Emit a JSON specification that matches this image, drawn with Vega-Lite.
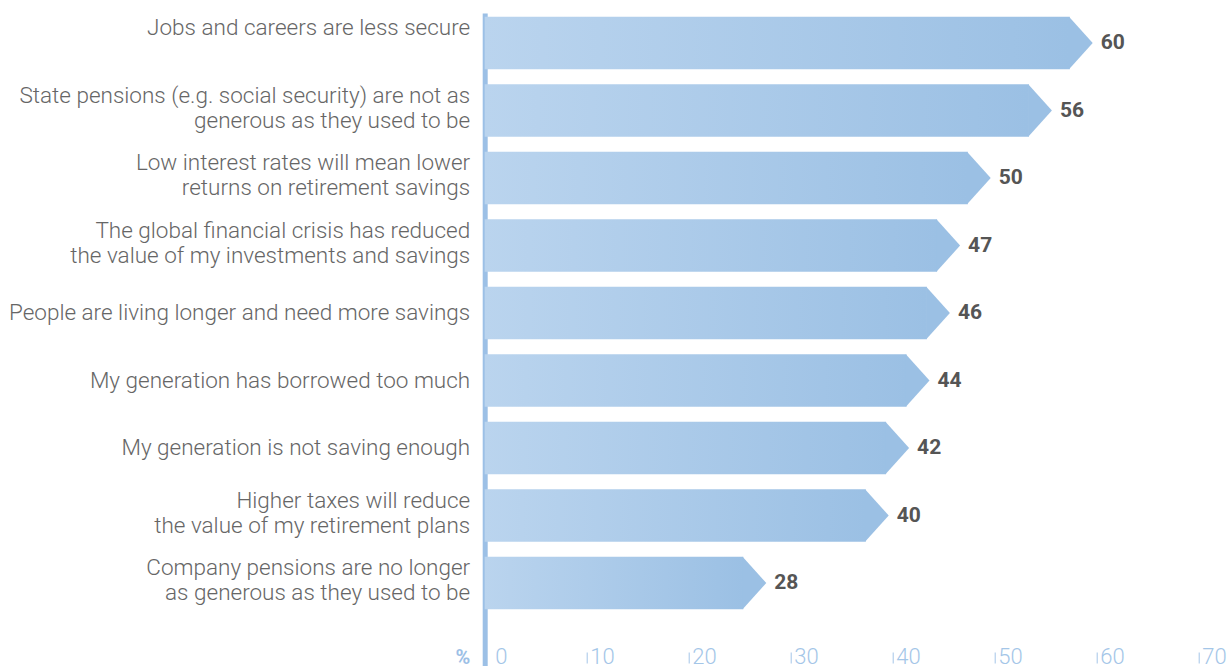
{
  "$schema": "https://vega.github.io/schema/vega-lite/v6.json",
  "autosize": "none",
  "width": 714,
  "height": 653,
  "padding": {"left": 484.7, "top": 13, "right": 31.3, "bottom": 0},
  "background": "white",
  "config": {"view": {"stroke": null}, "font": "Roboto"},
  "data": {
    "values": [
      {"label": "Jobs and careers are less secure", "value": 60},
      {"label": "State pensions (e.g. social security) are not as|generous as they used to be", "value": 56},
      {"label": "Low interest rates will mean lower|returns on retirement savings", "value": 50},
      {"label": "The global financial crisis has reduced|the value of my investments and savings", "value": 47},
      {"label": "People are living longer and need more savings", "value": 46},
      {"label": "My generation has borrowed too much", "value": 44},
      {"label": "My generation is not saving enough", "value": 42},
      {"label": "Higher taxes will reduce|the value of my retirement plans", "value": 40},
      {"label": "Company pensions are no longer|as generous as they used to be", "value": 28}
    ]
  },
  "encoding": {
    "y": {
      "field": "label",
      "type": "nominal",
      "sort": null,
      "scale": {"paddingInner": 0.2222, "paddingOuter": 0.448, "align": 0.062},
      "axis": {
        "title": null,
        "domain": true,
        "domainColor": "#9cc0e6",
        "domainWidth": 5,
        "ticks": false,
        "tickSize": 0,
        "labelPadding": 15,
        "labelExpr": "split(datum.label, '|')",
        "labelOffset": {"condition": {"test": "indexof(datum.value, '|') >= 0 || datum.value === 'Jobs and careers are less secure'", "value": -15}, "value": 0},
        "labelFont": "Roboto",
        "labelFontWeight": 300,
        "labelFontSize": 22.5,
        "labelLineHeight": 25,
        "labelColor": "#666666",
        "labelLimit": 0
      }
    }
  },
  "layer": [
    {
      "mark": {
        "type": "bar",
        "xOffset": -27,
        "color": {
          "gradient": "linear",
          "x1": 0, "x2": 1, "y1": 0, "y2": 0,
          "stops": [
            {"offset": 0, "color": "#bad4ee"},
            {"offset": 1, "color": "#9bc0e4"}
          ]
        }
      },
      "encoding": {
        "x": {
          "field": "value",
          "type": "quantitative",
          "scale": {"domain": [0, 70], "nice": false},
          "axis": {
            "orient": "bottom",
            "offset": -14,
            "values": [0, 10, 20, 30, 40, 50, 60, 70],
            "grid": false,
            "domain": false,
            "ticks": true,
            "tickSize": 11,
            "tickColor": "#a4c6e8",
            "tickWidth": 1,
            "tickOpacity": {"condition": {"test": "datum.value === 0", "value": 0}, "value": 1},
            "labelOffset": {"condition": {"test": "datum.value === 0", "value": 10}, "value": 3},
            "labelAlign": "left",
            "labelBaseline": "alphabetic",
            "labelPadding": 0,
            "labelFont": "Roboto",
            "labelFontWeight": 300,
            "labelFontSize": 22,
            "labelColor": "#a4c6e8",
            "labelFlush": false,
            "labelOverlap": false,
            "title": "%",
            "titleX": -15,
            "titleY": 11,
            "titleAlign": "right",
            "titleBaseline": "alphabetic",
            "titleAnchor": null,
            "titleFont": "Roboto",
            "titleFontSize": 20,
            "titleFontWeight": "bold",
            "titleColor": "#9cc0e6"
          }
        },
        "x2": {"datum": 0}
      }
    },
    {
      "mark": {
        "type": "point",
        "shape": "M -0.9 -1 L 0 0 L -0.9 1 Z",
        "size": 2767,
        "filled": true,
        "opacity": 1,
        "color": "#9bc0e4",
        "strokeWidth": 0,
        "xOffset": -4
      },
      "encoding": {
        "x": {"field": "value", "type": "quantitative"}
      }
    },
    {
      "mark": {
        "type": "text",
        "align": "left",
        "baseline": "middle",
        "dx": 4,
        "font": "Roboto",
        "fontSize": 21,
        "fontWeight": "bold",
        "color": "#555555"
      },
      "encoding": {
        "x": {"field": "value", "type": "quantitative"},
        "text": {"field": "value", "type": "quantitative"}
      }
    }
  ]
}
